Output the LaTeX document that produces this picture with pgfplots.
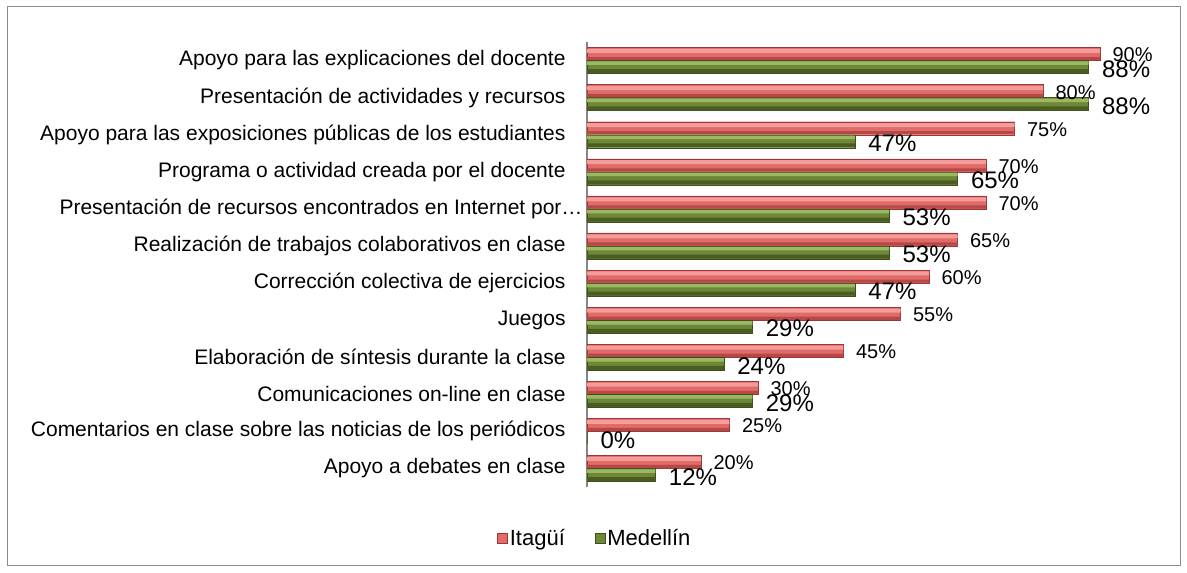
\documentclass[border=0pt]{standalone}
\usepackage{fontspec}
\setmainfont{Liberation Sans}
\usepackage{pgfplots}
\usepackage{pgfplotstable}
\pgfplotsset{compat=1.18}
\definecolor{redtop}{HTML}{F39C9A}
\definecolor{redmid}{HTML}{E06B69}
\definecolor{redbot}{HTML}{B54947}
\definecolor{redline}{HTML}{9E3634}
\definecolor{grntop}{HTML}{9DB862}
\definecolor{grnmid}{HTML}{6E8837}
\definecolor{grnbot}{HTML}{4A5E22}
\definecolor{grnline}{HTML}{3E4F1C}
\definecolor{framegray}{HTML}{8C8C8C}
\definecolor{axisgray}{HTML}{868686}
\pgfplotstableread{
y  ita  med
0  20   12
1  25   0
2  30   29
3  45   24
4  55   29
5  60   47
6  65   53
7  70   53
8  70   65
9  75   47
10 80   88
11 90   88
}\datatable
\begin{document}
\begin{tikzpicture}[x=1pt,y=1pt]
\path (0,0) rectangle (1187,573);
\draw[framegray, line width=1pt] (7,7) rectangle (1180,566);
\begin{axis}[
  at={(587pt,86pt)}, anchor=south west,
  scale only axis, width=570pt, height=445pt,
  xmin=0, xmax=100, ymin=-0.5, ymax=11.5,
  xbar,
  axis x line=none, axis y line*=left,
  y axis line style={axisgray, line width=1.2pt, -},
  ytick={0,...,11},
  yticklabels={
    Apoyo a debates en clase,
    Comentarios en clase sobre las noticias de los periódicos,
    Comunicaciones on-line en clase,
    Elaboración de síntesis durante la clase,
    Juegos,
    Corrección colectiva de ejercicios,
    Realización de trabajos colaborativos en clase,
    Presentación de recursos encontrados en Internet por…\hspace*{-17pt},
    Programa o actividad creada por el docente,
    Apoyo para las exposiciones públicas de los estudiantes,
    Presentación de actividades y recursos,
    Apoyo para las explicaciones del docente},
  ytick style={draw=none},
  yticklabel style={font=\fontsize{21}{23}\selectfont, anchor=east, inner sep=0pt, xshift=-17pt},
  /pgf/number format/assume math mode=true,
  legend style={at={(axis description cs:0.014,-0.115)}, anchor=center, draw=none, fill=none,
    legend columns=2, font=\fontsize{22}{24}\selectfont,
    /tikz/every even column/.append style={column sep=28pt},
    legend cell align=left, inner sep=0pt},
  legend image code/.code={\path[#1] (0pt,-5pt) rectangle (10pt,5pt);},
]
% Itagui (red)
\addplot[bar width=13pt, bar shift=6.5pt, draw=redline, line width=0.4pt, fill=redmid,
  point meta=x,
  nodes near coords={\pgfmathprintnumber{\pgfplotspointmeta}\%},
  nodes near coords align={horizontal},
  every node near coord/.append style={font=\fontsize{20}{22}\selectfont, xshift=9pt, yshift=-1pt, text=black}]
  table[x=ita, y=y] {\datatable};
\addlegendentry{Itagüí}
% Medellin (green)
\addplot[bar width=13pt, bar shift=-6.5pt, draw=grnline, line width=0.4pt, fill=grnmid,
  point meta=x,
  nodes near coords={\pgfmathprintnumber{\pgfplotspointmeta}\%},
  nodes near coords align={horizontal},
  every node near coord/.append style={font=\fontsize{24}{26}\selectfont, xshift=10pt, yshift=-2pt, text=black}]
  table[x=med, y=y] {\datatable};
\addlegendentry{Medellín}
% shading bands
\addplot[forget plot, bar width=4pt, bar shift=9.6pt, draw=none, fill=redtop] table[x=ita, y=y] {\datatable};
\addplot[forget plot, bar width=3.2pt, bar shift=1.9pt, draw=none, fill=redbot] table[x=ita, y=y] {\datatable};
\addplot[forget plot, bar width=3.5pt, bar shift=-2.7pt, draw=none, fill=grntop] table[x=med, y=y] {\datatable};
\addplot[forget plot, bar width=4pt, bar shift=-10.7pt, draw=none, fill=grnbot] table[x=med, y=y] {\datatable};
\end{axis}
\end{tikzpicture}
\end{document}
